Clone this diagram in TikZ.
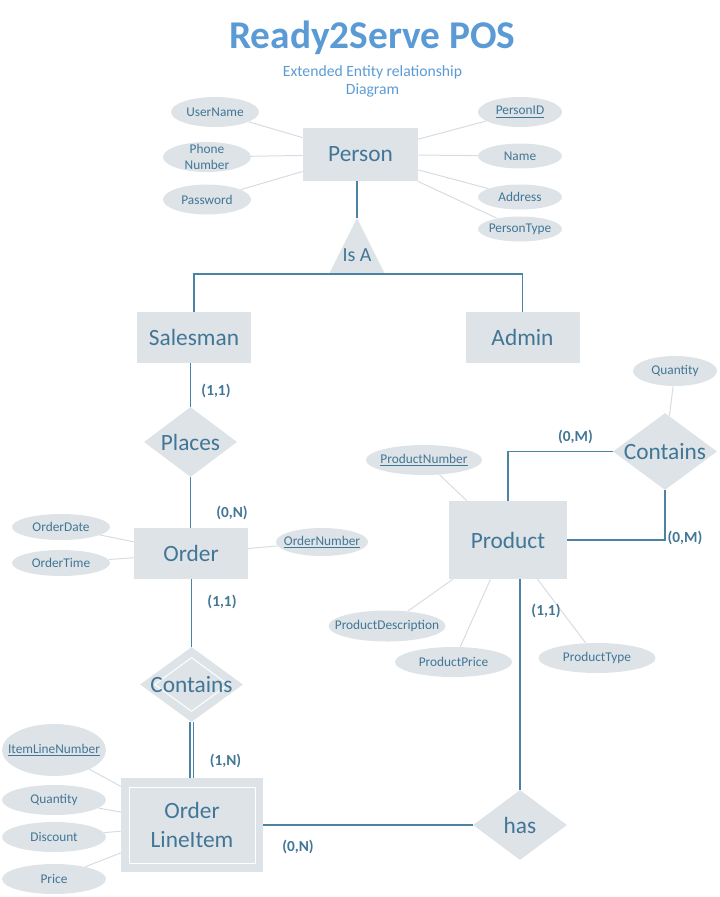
\documentclass[tikz,border=0pt]{standalone}
\usepackage{fontspec}
\setmainfont{Carlito}
\usetikzlibrary{shapes.geometric, positioning, calc}
\definecolor{titleblue}{RGB}{91,155,213}
\definecolor{erfill}{RGB}{221,227,231}
\definecolor{ertext}{RGB}{66,118,150}
\definecolor{erline}{RGB}{74,131,163}
\definecolor{attrline}{RGB}{214,221,226}

\tikzset{
  entity/.style={rectangle, fill=erfill, text=ertext, inner sep=0pt, align=center,
    font=\fontsize{17.5}{21.75}\selectfont},
  relbox/.style={diamond, fill=erfill, inner sep=0pt},
  relation/.style={relbox, label={[reltext]center:#1}},
  reltext/.style={text=ertext, font=\fontsize{17.5}{21}\selectfont},
  attr/.style={ellipse, fill=erfill, inner sep=0pt, label={[attrtext]center:#1}},
  attrtext/.style={text=ertext, align=center, font=\fontsize{10}{12}\selectfont},
  card/.style={text=ertext, font=\fontsize{11.5}{13}\selectfont\bfseries},
  relline/.style={draw=erline, line width=1pt},
  attrlink/.style={draw=attrline, line width=0.75pt},
}

\begin{document}
\begin{tikzpicture}[x=0.75pt, y=-0.75pt]
  \useasboundingbox (0,0) rectangle (720,897);

  % title
  \node[text=titleblue, anchor=base, font=\fontsize{29.5}{34}\selectfont\bfseries] (title) at (372.5,48) {Ready2Serve POS};
  \node[text=titleblue, inner sep=0pt, align=center, font=\fontsize{11.75}{13.5}\selectfont] (subtitle) at (372.5,81) {Extended Entity relationship\\Diagram};

  % entities
  \node[entity, minimum width=86.25pt, minimum height=39.75pt] (person) at (360.5,154.5) {Person};
  \node[entity, minimum width=85.5pt, minimum height=38.25pt] (salesman) at (194,337.5) {Salesman};
  \node[entity, minimum width=85.5pt, minimum height=38.25pt] (admin) at (522.5,337.5) {Admin};
  \node[entity, minimum width=85.5pt, minimum height=38.25pt] (order) at (191,553.5) {Order};
  \node[entity, minimum width=88.5pt, minimum height=58.5pt] (product) at (508,540) {Product};
  \node[entity, minimum width=106.5pt, minimum height=70.5pt] (oli) at (192,825) {Order\\LineItem};
  \node[draw=white, line width=0.75pt, inner sep=0pt, minimum width=94.5pt, minimum height=57pt] (oliin) at (oli) {};

  % relationships
  \node[relation=Places, minimum width=69.75pt, minimum height=52.5pt] (places) at (190.5,442) {};
  \node[relbox, minimum width=77.25pt, minimum height=56.25pt] (contains1) at (191.5,684.5) {};
  \node[diamond, draw=white, line width=0.75pt, inner sep=0pt, minimum width=55.5pt, minimum height=40.5pt,
    label={[reltext]center:Contains}] (contains1in) at (contains1) {};
  \node[relation=has, minimum width=70.5pt, minimum height=52.5pt] (has) at (520,825) {};
  \node[relation=Contains, minimum width=78pt, minimum height=57.75pt] (contains2) at (665,451.5) {};

  % is a
  \coordinate (isatop) at (357,218);
  \coordinate (isabase) at (357,274);
  \fill[erfill] (isatop) -- (329,274) -- (385,274) -- cycle;
  \node[text=ertext, font=\fontsize{15}{17}\selectfont] (isa) at (357,255) {Is A};

  % attributes
  \node[attr=UserName, minimum width=66pt, minimum height=22.5pt] (username) at (215,112) {};
  \node[attr={Phone\\Number}, minimum width=66pt, minimum height=22.5pt] (phone) at (207,157) {};
  \node[attr=Password, minimum width=66pt, minimum height=22.5pt] (password) at (207,199.5) {};
  \node[attr={\underline{PersonID}}, minimum width=63pt, minimum height=22.5pt] (personid) at (520,112) {};
  \node[attr=Name, minimum width=63pt, minimum height=18.75pt] (name) at (520,156) {};
  \node[attr=Address, minimum width=63pt, minimum height=18.75pt] (address) at (520,197) {};
  \node[attr=PersonType, minimum width=63pt, minimum height=18.75pt] (persontype) at (520,229) {};
  \node[attr=OrderDate, minimum width=73.5pt, minimum height=19.5pt] (orderdate) at (61,527) {};
  \node[attr=OrderTime, minimum width=73.5pt, minimum height=19.5pt] (ordertime) at (61,563) {};
  \node[attr={\underline{OrderNumber}}, minimum width=69pt, minimum height=21pt] (ordernumber) at (322,542) {};
  \node[attr={\underline{ItemLineNumber}}, minimum width=78pt, minimum height=39pt] (itemline) at (54,750) {};
  \node[attr=Quantity, minimum width=78pt, minimum height=22.5pt] (quantity) at (54,800) {};
  \node[attr=Discount, minimum width=78pt, minimum height=22.5pt] (discount) at (54,837) {};
  \node[attr=Price, minimum width=78pt, minimum height=22.5pt] (price) at (54,879) {};
  \node[attr={\underline{ProductNumber}}, minimum width=87pt, minimum height=22.5pt] (prodnumber) at (424,460) {};
  \node[attr=ProductDescription, minimum width=87.75pt, minimum height=23.25pt] (proddesc) at (387,626) {};
  \node[attr=ProductPrice, minimum width=87.75pt, minimum height=22.5pt] (prodprice) at (453.5,662) {};
  \node[attr=ProductType, minimum width=87.75pt, minimum height=22.5pt] (prodtype) at (597,658) {};
  \node[attr=Quantity, minimum width=63pt, minimum height=22.5pt] (relquantity) at (675,371) {};

  % attribute links
  \foreach \a in {username, phone, password, personid, name, address, persontype}
    \draw[attrlink] (\a) -- (person);
  \foreach \a in {orderdate, ordertime, ordernumber}
    \draw[attrlink] (\a) -- (order);
  \foreach \a in {itemline, quantity, discount, price}
    \draw[attrlink] (\a) -- (oli);
  \foreach \a in {prodnumber, proddesc, prodprice, prodtype}
    \draw[attrlink] (\a) -- (product);
  \draw[attrlink] (relquantity) -- (contains2);

  % relationship links
  \draw[relline] (isatop |- person.south) -- (isatop);
  \draw[relline] (salesman.north) |- (isabase) -| (admin.north);
  \draw[relline] (places.north |- salesman.south) -- (places.north);
  \draw[relline] (places.south) -- (places.south |- order.north);
  \draw[relline] (contains1.north |- order.south) -- (contains1.north);
  \draw[erline, line width=1.2pt, double=white, double distance=1.5pt] (contains1.south) -- (contains1.south |- oli.north);
  \draw[relline] (oli.east) -- (has.west);
  \draw[relline] (has.north |- product.south) -- (has.north);
  \draw[relline] (product.north) |- (contains2.west);
  \draw[relline] (contains2.south) |- (product.east);

  % cardinalities
  \node[card] (c11a) at (216,391) {(1,1)};
  \node[card] (c0na) at (232,513) {(0,N)};
  \node[card] (c11b) at (222,602) {(1,1)};
  \node[card] (c1n) at (225.5,761) {(1,N)};
  \node[card] (c0nb) at (298,847) {(0,N)};
  \node[card] (c0ma) at (575.5,437) {(0,M)};
  \node[card] (c0mb) at (685,538) {(0,M)};
  \node[card] (c11c) at (546,611) {(1,1)};
\end{tikzpicture}
\end{document}
